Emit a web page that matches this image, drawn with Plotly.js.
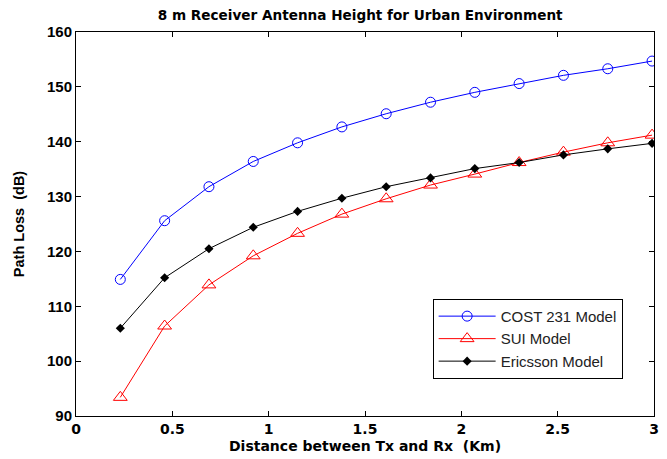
<!DOCTYPE html>
<html>
<head>
<meta charset="utf-8">
<script src="https://cdn.plot.ly/plotly-3.0.1.min.js"></script>
<style>html,body{margin:0;padding:0;background:#fff;}#chart{width:667px;height:459px;}</style>
</head>
<body>
<div id="chart"></div>
<script>
const distance = [0.23, 0.46, 0.69, 0.92, 1.15, 1.38, 1.61, 1.84, 2.07, 2.30, 2.53, 2.76, 2.99];
const cost231 = [114.9, 125.6, 131.8, 136.4, 139.8, 142.7, 145.1, 147.2, 149.0, 150.6, 152.1, 153.3, 154.7];
const sui = [93.4, 106.4, 113.9, 119.2, 123.3, 126.8, 129.6, 132.1, 134.1, 136.2, 138.1, 139.8, 141.2];
const ericsson = [106.0, 115.2, 120.5, 124.4, 127.3, 129.7, 131.8, 133.4, 135.1, 136.2, 137.6, 138.7, 139.7];
const xTicks = [0, 0.5, 1, 1.5, 2, 2.5, 3];
const xTickLabels = ['0', '0.5', '1', '1.5', '2', '2.5', '3'];
const yTicks = [90, 100, 110, 120, 130, 140, 150, 160];

const traces = [
  {x: distance, y: cost231, name: 'COST 231 Model', mode: 'lines+markers',
   line: {color: '#0000ff', width: 1},
   marker: {symbol: 'circle-open', size: 10, color: '#0000ff', line: {width: 1}}},
  {x: distance, y: sui, name: 'SUI Model', mode: 'lines+markers',
   line: {color: '#ff0000', width: 1},
   marker: {symbol: 'triangle-up-open', size: 12, color: '#ff0000', line: {width: 1}}},
  {x: distance, y: ericsson, name: 'Ericsson Model', mode: 'lines+markers',
   line: {color: '#000000', width: 1},
   marker: {symbol: 'diamond', size: 7, color: '#000000'}}
];

const axisCommon = {
  showgrid: false, zeroline: false, showline: true, mirror: 'ticks',
  linecolor: '#000', linewidth: 1, ticks: 'inside', ticklen: 5, tickcolor: '#000'
};

const layout = {
  width: 667, height: 459,
  margin: {l: 76, r: 13, t: 32, b: 43},
  paper_bgcolor: '#fff', plot_bgcolor: '#fff',
  title: {text: '<b>8 m Receiver Antenna Height for Urban Environment</b>',
    font: {family: 'DejaVu Sans, sans-serif', size: 13.6, color: '#000'},
    x: 0.54, xanchor: 'center', y: 0.967, yanchor: 'middle'},
  xaxis: Object.assign({}, axisCommon, {range: [0, 3], tickvals: xTicks, ticktext: xTickLabels,
    tickfont: {family: 'DejaVu Sans, sans-serif', size: 14, color: '#000', weight: 'bold'},
    title: {text: '<b>Distance between Tx and Rx  (Km)</b>', standoff: 5,
      font: {family: 'DejaVu Sans, sans-serif', size: 14, color: '#000'}}}),
  yaxis: Object.assign({}, axisCommon, {range: [90, 160], tickvals: yTicks,
    tickfont: {family: 'Liberation Sans, Arial, sans-serif', size: 15, color: '#000', weight: 'bold'},
    title: {text: '<b>Path Loss  (dB)</b>', standoff: 18,
      font: {family: 'Liberation Sans, Arial, sans-serif', size: 14.5, color: '#000'}}}),
  showlegend: true,
  legend: {x: 0.617, y: 0.305, xanchor: 'left', yanchor: 'top',
    bgcolor: '#fff', bordercolor: '#000', borderwidth: 1,
    font: {family: 'Liberation Sans, Arial, sans-serif', size: 15, color: '#222'},
    tracegroupgap: 0, itemwidth: 57}
};

Plotly.newPlot('chart', traces, layout, {displayModeBar: false, staticPlot: true});
</script>
</body>
</html>
